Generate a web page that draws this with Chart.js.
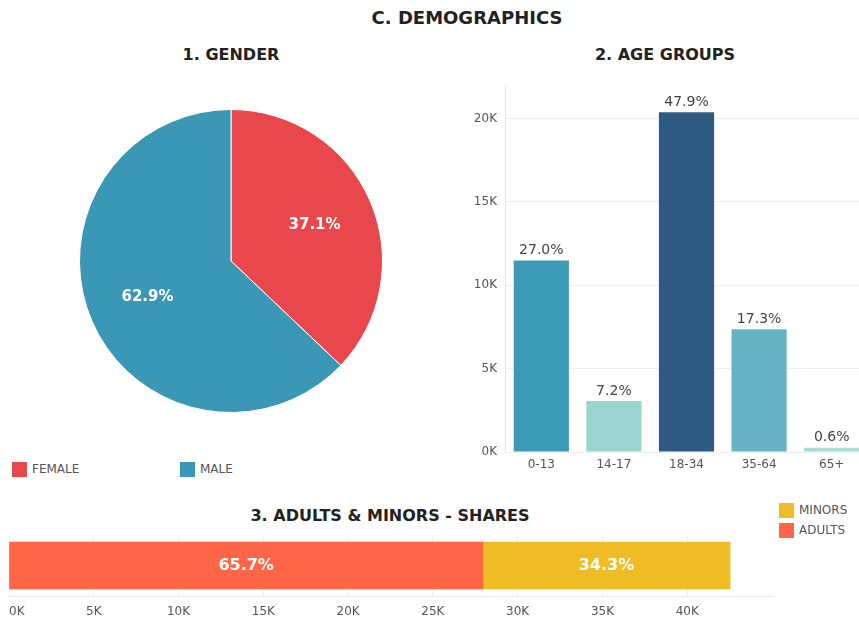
<!DOCTYPE html>
<html>
<head>
<meta charset="utf-8">
<title>C. Demographics</title>
<script src="https://cdn.jsdelivr.net/npm/chart.js"></script>
<style>
    html, body {
        margin: 0;
        padding: 0;
        background: #ffffff;
    }
    body {
        position: relative;
        width: 859px;
        height: 624px;
        overflow: hidden;
        font-family: "DejaVu Sans", Verdana, sans-serif;
    }
    .title {
        position: absolute;
        text-align: center;
        font-family: "DejaVu Sans", Verdana, sans-serif;
        font-weight: bold;
        color: #222;
        white-space: nowrap;
        transform: translateX(-50%);
    }
    canvas {
        position: absolute;
    }
    .legend-item {
        position: absolute;
        font-size: 12px;
        color: #555;
        line-height: 15px;
        white-space: nowrap;
    }
    .legend-item span {
        display: inline-block;
        width: 15px;
        height: 15px;
        vertical-align: top;
        margin-right: 5px;
    }
</style>
</head>
<body>

<div class="title" style="left:467px; top:7px; font-size:18px;">C. DEMOGRAPHICS</div>
<div class="title" style="left:231px; top:45px; font-size:16px;">1. GENDER</div>
<div class="title" style="left:665px; top:45px; font-size:16px;">2. AGE GROUPS</div>
<div class="title" style="left:390px; top:506px; font-size:16px;">3. ADULTS &amp; MINORS - SHARES</div>

<canvas id="genderChart" width="304" height="304" style="left:79px; top:109px;"></canvas>
<canvas id="ageChart" width="413" height="408" style="left:455px; top:70px;"></canvas>
<canvas id="sharesChart" width="859" height="94" style="left:0px; top:530px;"></canvas>

<div id="genderLegend"></div>
<div id="sharesLegend"></div>

<script>
// --- data ---
const genderLabels = ['FEMALE', 'MALE'];
const genderValues = [15779, 26751];
const genderColors = ['#E8474B', '#3A97B5'];

const ageLabels = ['0-13', '14-17', '18-34', '35-64', '65+'];
const ageValues = [11483, 3062, 20372, 7358, 255];
const ageColors = ['#3C9AB7', '#9BD3CF', '#2E5A82', '#67B3C3', '#A6DDD6'];

const shareLabels = ['ADULTS', 'MINORS'];
const shareValues = [27942, 14588];
const shareColors = ['#FF6648', '#EFBC26'];

const axisTicks = [0, 5000, 10000, 15000, 20000, 25000, 30000, 35000, 40000];
const shareAxisMax = 45000;

const FONT = '"DejaVu Sans", Verdana, sans-serif';

function sum(arr) {
    return arr.reduce((a, b) => a + b, 0);
}

function pct(value, total) {
    return (value / total * 100).toFixed(1) + '%';
}

function kLabel(value) {
    return (value / 1000) + 'K';
}

// --- 1. gender pie ---
const genderTotal = sum(genderValues);

const pieLabelsPlugin = {
    id: 'pieLabels',
    afterDatasetsDraw(chart) {
        const ctx = chart.ctx;
        const meta = chart.getDatasetMeta(0);
        ctx.save();
        ctx.font = 'bold 15px ' + FONT;
        ctx.fillStyle = '#ffffff';
        ctx.textAlign = 'center';
        ctx.textBaseline = 'middle';
        meta.data.forEach((arc, i) => {
            const p = arc.getProps(['x', 'y', 'startAngle', 'endAngle', 'outerRadius'], true);
            const mid = (p.startAngle + p.endAngle) / 2;
            const r = p.outerRadius * 0.6;
            ctx.fillText(pct(genderValues[i], genderTotal), p.x + Math.cos(mid) * r, p.y + Math.sin(mid) * r);
        });
        ctx.restore();
    }
};

new Chart(document.getElementById('genderChart'), {
    type: 'pie',
    data: {
        labels: genderLabels,
        datasets: [{
            data: genderValues,
            backgroundColor: genderColors,
            borderColor: '#ffffff',
            borderWidth: 1
        }]
    },
    options: {
        responsive: false,
        animation: false,
        layout: { padding: 0 },
        plugins: {
            legend: { display: false },
            tooltip: { enabled: false }
        }
    },
    plugins: [pieLabelsPlugin]
});

// --- 2. age groups bars ---
const ageTotal = sum(ageValues);

const barTopLabelsPlugin = {
    id: 'barTopLabels',
    afterDatasetsDraw(chart) {
        const ctx = chart.ctx;
        const meta = chart.getDatasetMeta(0);
        ctx.save();
        ctx.font = '14px ' + FONT;
        ctx.fillStyle = '#444';
        ctx.textAlign = 'center';
        ctx.textBaseline = 'bottom';
        meta.data.forEach((bar, i) => {
            ctx.fillText(pct(ageValues[i], ageTotal), bar.x, bar.y - 3);
        });
        ctx.restore();
    }
};

new Chart(document.getElementById('ageChart'), {
    type: 'bar',
    data: {
        labels: ageLabels,
        datasets: [{
            data: ageValues,
            backgroundColor: ageColors,
            barPercentage: 0.76,
            categoryPercentage: 1
        }]
    },
    options: {
        responsive: false,
        animation: false,
        layout: { padding: 0 },
        plugins: {
            legend: { display: false },
            tooltip: { enabled: false }
        },
        scales: {
            x: {
                grid: { display: false, drawTicks: false },
                border: { display: false },
                ticks: {
                    color: '#555',
                    font: { family: FONT, size: 12 },
                    padding: 6
                },
                afterFit(scale) {
                    scale.height = 26;
                }
            },
            y: {
                min: 0,
                max: 22000,
                grid: {
                    color: '#efefef',
                    drawTicks: false
                },
                border: { color: '#e6e6e6' },
                ticks: {
                    color: '#555',
                    font: { family: FONT, size: 12 },
                    padding: 8,
                    callback: kLabel
                },
                afterBuildTicks(scale) {
                    scale.ticks = axisTicks.filter(v => v <= 20000).map(v => ({ value: v }));
                },
                afterFit(scale) {
                    scale.width = 50;
                }
            }
        }
    },
    plugins: [barTopLabelsPlugin]
});

// --- 3. adults & minors stacked bar ---
const shareTotal = sum(shareValues);

const stackLabelsPlugin = {
    id: 'stackLabels',
    afterDatasetsDraw(chart) {
        const ctx = chart.ctx;
        ctx.save();
        ctx.font = 'bold 16px ' + FONT;
        ctx.fillStyle = '#ffffff';
        ctx.textAlign = 'center';
        ctx.textBaseline = 'middle';
        chart.data.datasets.forEach((ds, i) => {
            const bar = chart.getDatasetMeta(i).data[0];
            const cx = (bar.x + bar.base) / 2;
            ctx.fillText(pct(shareValues[i], shareTotal), cx, bar.y);
        });
        ctx.restore();
    }
};

new Chart(document.getElementById('sharesChart'), {
    type: 'bar',
    data: {
        labels: ['TOTAL'],
        datasets: shareLabels.map((label, i) => ({
            label: label,
            data: [shareValues[i]],
            backgroundColor: shareColors[i],
            barThickness: 47
        }))
    },
    options: {
        indexAxis: 'y',
        responsive: false,
        animation: false,
        layout: { padding: { top: 5, left: 9, right: 87, bottom: 0 } },
        plugins: {
            legend: { display: false },
            tooltip: { enabled: false }
        },
        scales: {
            x: {
                stacked: true,
                min: 0,
                max: shareAxisMax,
                grid: {
                    color: c => (c.tick && c.tick.value === shareAxisMax) ? 'rgba(0,0,0,0)' : '#f2f2f2',
                    drawTicks: false
                },
                border: { color: '#e8e8e8' },
                ticks: {
                    color: '#555',
                    font: { family: FONT, size: 12 },
                    padding: 9,
                    align: 'inner',
                    callback: v => axisTicks.includes(v) ? kLabel(v) : ''
                },
                afterBuildTicks(scale) {
                    scale.ticks = axisTicks.concat([shareAxisMax]).map(v => ({ value: v }));
                },
                afterFit(scale) {
                    scale.height = 28;
                }
            },
            y: {
                stacked: true,
                display: false
            }
        }
    },
    plugins: [stackLabelsPlugin]
});

// --- html legends ---
function legendItem(label, color, left, top) {
    const el = document.createElement('div');
    el.className = 'legend-item';
    el.style.left = left + 'px';
    el.style.top = top + 'px';
    el.innerHTML = '<span style="background:' + color + '"></span>' + label;
    return el;
}

const genderLegend = document.getElementById('genderLegend');
genderLabels.forEach((label, i) => {
    genderLegend.appendChild(legendItem(label, genderColors[i], 12 + i * 168, 462));
});

// minors on top, adults below
const sharesLegend = document.getElementById('sharesLegend');
shareLabels.slice().reverse().forEach((label, i) => {
    const idx = shareLabels.indexOf(label);
    sharesLegend.appendChild(legendItem(label, shareColors[idx], 779, 503 + i * 20));
});
</script>
</body>
</html>
